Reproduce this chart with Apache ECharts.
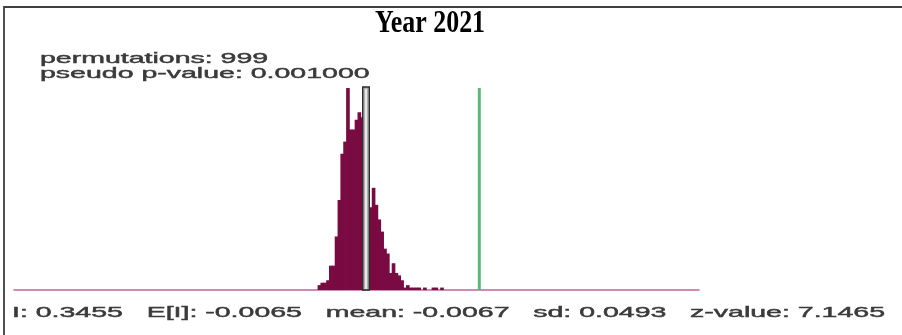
<!DOCTYPE html>
<html>
<head>
<meta charset="utf-8">
<script src="https://cdn.jsdelivr.net/npm/echarts@6/dist/echarts.min.js"></script>
<style>
html,body{margin:0;padding:0;background:#fff;}
#chart{width:902px;height:335px;}
</style>
</head>
<body>
<div id="chart"></div>
<script>
// ---- data ----
const titleText = 'Year 2021';
const permutations = 999;
const pseudoP = '0.001000';
const observedI = 0.3455;
const expectedI = -0.0065;
const meanI = -0.0067;
const sdI = 0.0493;
const zValue = 7.1465;
const xRange = [-1.1009, 1.0284];
const binStart = -0.1559;
const binWidth = 0.00886;
const binCounts = [2,3,3,4,10,10,22,37,56,61,83,66,66,70,73,71,67,53,34,42,35,29,24,17,15,7,11,7,6,4,1,2,1,1,1,1,0,1,0,0,1,1,0,1,0];

// ---- build ----
const histData = [];
binCounts.forEach(function (c, i) {
  if (c > 0) histData.push([binStart + i * binWidth, binStart + (i + 1) * binWidth, c]);
});
const lineTop = Math.max.apply(null, binCounts);

const chart = echarts.init(document.getElementById('chart'));
const textFill = '#3a3a3a';
const statsLine = 'I: ' + observedI.toFixed(4) + '   E[I]: ' + expectedI.toFixed(4) +
  '   mean: ' + meanI.toFixed(4) + '   sd: ' + sdI.toFixed(4) + '   z-value: ' + zValue.toFixed(4);
const smallFont = '15px "Liberation Sans"';

chart.setOption({
  animation: false,
  backgroundColor: '#ffffff',
  grid: { left: 14, right: 203, top: 71, bottom: 45 },
  xAxis: {
    type: 'value', min: xRange[0], max: xRange[1],
    axisLine: { show: true, onZero: true, lineStyle: { color: '#c4649a', width: 1.5 } },
    axisTick: { show: false }, axisLabel: { show: false }, splitLine: { show: false }
  },
  yAxis: {
    type: 'value', min: 0, max: 90, show: false, splitLine: { show: false }
  },
  graphic: [
    { type: 'polyline', silent: true, z: 10,
      shape: { points: [[4, 335], [4, 7], [902, 7]] },
      style: { stroke: '#3f3f3f', lineWidth: 1.8, fill: null } },
    { type: 'text', x: 430, y: 24, scaleX: 0.96, scaleY: 1.15, silent: true,
      style: { text: titleText, font: 'bold 27px "Liberation Serif"', fill: '#000', align: 'center', verticalAlign: 'middle' } },
    { type: 'text', x: 40, y: 58.5, scaleX: 1.9, silent: true,
      style: { text: 'permutations: ' + permutations, font: smallFont, fill: textFill, stroke: textFill, lineWidth: 0.45, align: 'left', verticalAlign: 'middle' } },
    { type: 'text', x: 40, y: 73.5, scaleX: 1.9, silent: true,
      style: { text: 'pseudo p-value: ' + pseudoP, font: smallFont, fill: textFill, stroke: textFill, lineWidth: 0.45, align: 'left', verticalAlign: 'middle' } },
    { type: 'text', x: 12, y: 313, scaleX: 1.9, silent: true,
      style: { text: statsLine, font: smallFont, fill: textFill, stroke: textFill, lineWidth: 0.45, align: 'left', verticalAlign: 'middle' } }
  ],
  series: [
    {
      type: 'custom', name: 'permutations', z: 2,
      renderItem: function (params, api) {
        const p0 = api.coord([api.value(0), api.value(2)]);
        const p1 = api.coord([api.value(1), 0]);
        return { type: 'rect', shape: { x: p0[0] - 0.4, y: p0[1], width: p1[0] - p0[0] + 0.8, height: p1[1] - p0[1] },
          style: { fill: '#7a0a42' } };
      },
      encode: { x: [0, 1], y: 2 },
      data: histData
    },
    {
      type: 'custom', name: 'mean', z: 3,
      renderItem: function (params, api) {
        const top = api.coord([api.value(0), api.value(1)]);
        const bot = api.coord([api.value(0), 0]);
        return { type: 'group', children: [
          { type: 'rect', shape: { x: top[0] - 3.3, y: top[1] - 1, width: 6.6, height: bot[1] - top[1] + 1 },
            style: { fill: '#b0b0b0', stroke: '#2e2e2e', lineWidth: 1.4 } },
          { type: 'rect', shape: { x: top[0] - 1, y: top[1] + 1, width: 2, height: bot[1] - top[1] - 2 },
            style: { fill: '#e8e8e8' } }
        ] };
      },
      encode: { x: 0, y: 1 },
      data: [[meanI, lineTop]]
    },
    {
      type: 'custom', name: 'observed', z: 3,
      renderItem: function (params, api) {
        const top = api.coord([api.value(0), api.value(1)]);
        const bot = api.coord([api.value(0), 0]);
        return { type: 'line', shape: { x1: top[0], y1: top[1], x2: bot[0], y2: bot[1] },
          style: { stroke: '#55bb77', lineWidth: 3 } };
      },
      encode: { x: 0, y: 1 },
      data: [[observedI, lineTop]]
    }
  ]
});
</script>
</body>
</html>
